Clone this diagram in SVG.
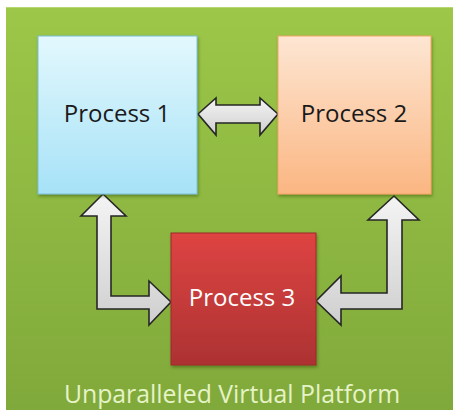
<svg xmlns="http://www.w3.org/2000/svg" width="453" height="410" viewBox="0 0 453 410">
<defs>
<linearGradient id="bg" x1="0" y1="0" x2="0" y2="1"><stop offset="0" stop-color="#9cc748"/><stop offset="1" stop-color="#80a93b"/></linearGradient>
<linearGradient id="g1" x1="0" y1="0" x2="0" y2="1"><stop offset="0" stop-color="#e3f8fd"/><stop offset="1" stop-color="#a6e2f7"/></linearGradient>
<linearGradient id="g2" x1="0" y1="0" x2="0" y2="1"><stop offset="0" stop-color="#fde6d3"/><stop offset="1" stop-color="#fbb682"/></linearGradient>
<linearGradient id="g3" x1="0" y1="0" x2="0" y2="1"><stop offset="0" stop-color="#de4442"/><stop offset="1" stop-color="#ad3232"/></linearGradient>
<linearGradient id="ga" x1="0" y1="0" x2="0" y2="1"><stop offset="0" stop-color="#f4f4f4"/><stop offset="1" stop-color="#cfcfcf"/></linearGradient>
<filter id="sh" x="-10%" y="-10%" width="125%" height="125%"><feDropShadow dx="1" dy="2" stdDeviation="1.5" flood-color="#2e4a10" flood-opacity="0.45"/></filter>
</defs>
<style>
.arrow{fill:url(#ga);stroke:#262626;stroke-width:1.6;stroke-linejoin:miter}
.lbl{font-family:"Open Sans","Liberation Sans",sans-serif;font-size:24px;text-anchor:middle}
</style>
<rect width="453" height="410" fill="#ffffff"/>
<rect id="platform" x="6" y="7" width="447" height="403" fill="url(#bg)"/>
<line x1="6" y1="7.5" x2="453" y2="7.5" stroke="#b5d870" stroke-width="1"/>
<g id="connectors">
<path class="arrow" d="M198,114 L216,98 L216,105 L260,105 L260,98 L278,114 L260,135 L260,123 L216,123 L216,135 Z"/>
<path class="arrow" d="M103,194 L126,216 L111,216 L111,296 L149,296 L149,281 L171,302 L149,325 L149,309 L97,309 L97,216 L81,216 Z"/>
<path class="arrow" d="M394,196 L419,220 L402,220 L402,309 L341,309 L341,325 L316,301 L341,276 L341,293 L387,293 L387,220 L368,220 Z"/>
</g>
<g id="process1">
<rect x="38" y="36" width="159" height="158" fill="url(#g1)" stroke="#7cc0d6" stroke-width="1" filter="url(#sh)"/>
<text class="lbl" x="117" y="122" fill="#1a1a1a">Process 1</text>
</g>
<g id="process2">
<rect x="278" y="36" width="153" height="158" fill="url(#g2)" stroke="#f2a565" stroke-width="1" filter="url(#sh)"/>
<text class="lbl" x="354" y="122" fill="#1a1a1a">Process 2</text>
</g>
<g id="process3">
<rect x="171" y="233" width="145" height="132" fill="url(#g3)" stroke="#9c2a2a" stroke-width="1" filter="url(#sh)"/>
<text class="lbl" x="242" y="306" fill="#ffffff">Process 3</text>
</g>
<text id="title" class="lbl" x="232" y="403" fill="#e6f3c6" style="font-size:24.8px">Unparalleled Virtual Platform</text>
</svg>
